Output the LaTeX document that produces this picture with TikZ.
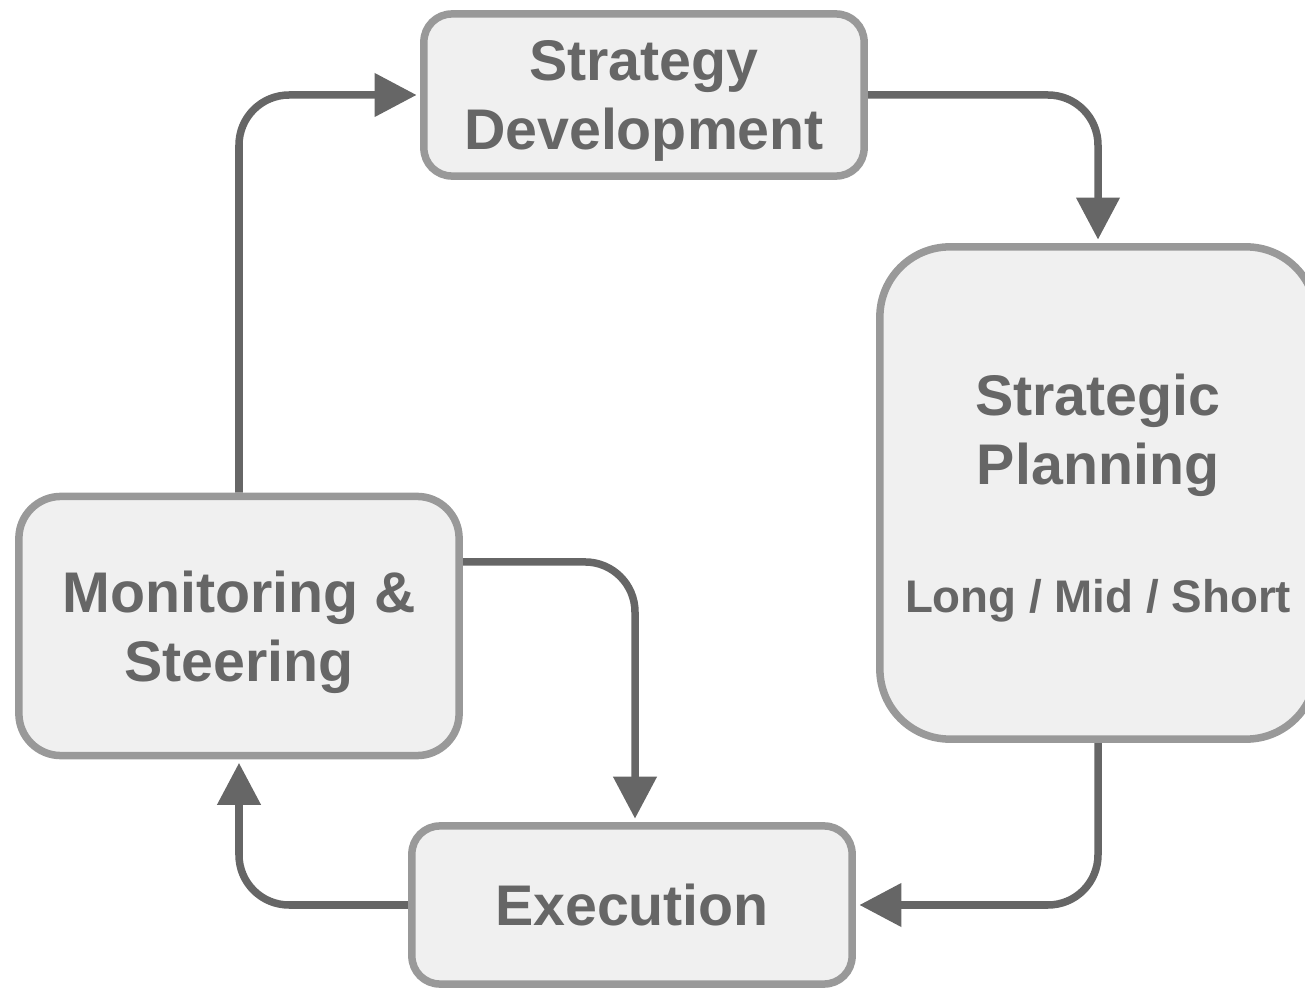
\documentclass[tikz,border=0pt]{standalone}
\usepackage{fontspec}
\setmainfont{Liberation Sans}
\usetikzlibrary{positioning,arrows.meta,backgrounds}
\definecolor{boxfill}{HTML}{F0F0F0}
\definecolor{boxline}{HTML}{999999}
\definecolor{inkgray}{HTML}{666666}

\begin{document}
\begin{tikzpicture}[x=0.01cm, y=-0.01cm,
    block/.style={rectangle, draw=boxline, fill=boxfill, line width=0.075cm, rounded corners=0.28cm, minimum width=4.4cm, inner sep=0pt, text depth=0pt, text=inkgray, align=center, font=\fontsize{16.3}{19.6}\selectfont\bfseries},
    arrow/.style={-{Triangle[length=0.42cm, width=0.42cm]}, line width=0.075cm, color=inkgray, rounded corners=0.5cm, shorten >=0.035cm}
]
    \useasboundingbox (0,0) rectangle (1305,991);

    % The four stages of the cycle
    \node[block, minimum height=1.62cm] (strat) at (644,95) {Strategy\\Development};
    \node[block, minimum width=4.36cm, minimum height=4.92cm, rounded corners=0.7cm] (plan) at (1098,493)
        {Strategic\\Planning\\[0.59cm]{\fontsize{13}{15.6}\selectfont Long / Mid / Short}};
    \node[block, minimum height=2.59cm, rounded corners=0.42cm] (monitor) at (239,626) {Monitoring \&\\Steering};
    \node[block, minimum height=1.58cm] (exec) at (632,905) {Execution};

    % Arrows: clockwise loop, plus the shortcut back into execution
    \begin{scope}[on background layer]
        \draw[arrow] (strat.east) -| (plan.north);
        \draw[arrow] (plan.south) |- (exec.east);
        \draw[arrow] (exec.west) -| (monitor.south);
        \draw[arrow] (monitor.north) |- (strat.west);
        \draw[arrow] ([yshift=0.64cm]monitor.east) -| ([xshift=0.03cm]exec.north);
    \end{scope}
\end{tikzpicture}
\end{document}
